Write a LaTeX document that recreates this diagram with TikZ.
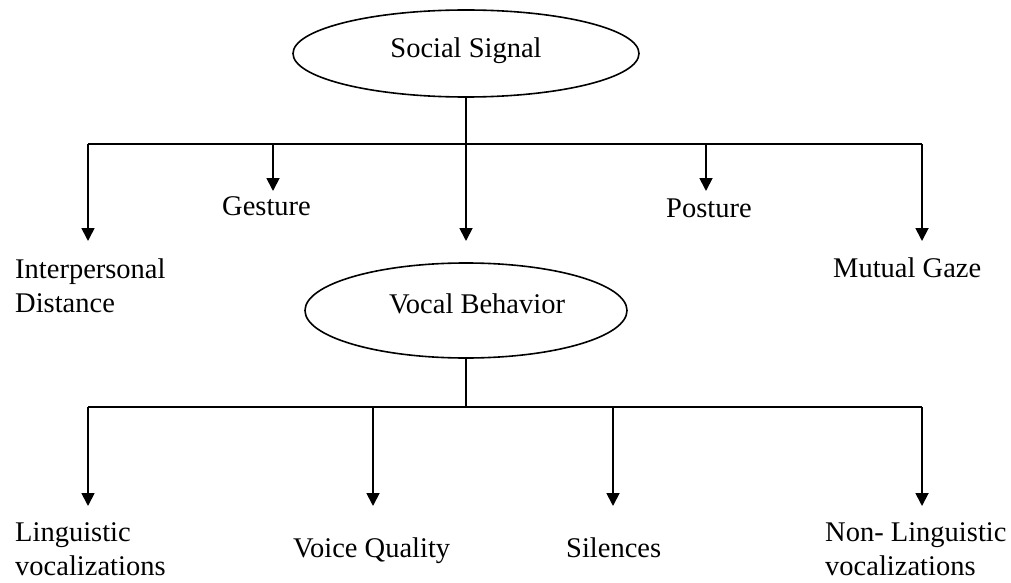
\documentclass[tikz,border=0pt]{standalone}
\usepackage{fontspec}
\setmainfont{Liberation Serif}
\usetikzlibrary{shapes.geometric,arrows.meta}
\begin{document}
\begin{tikzpicture}[x=1pt,y=-1pt,
  conn/.style={line width=1.8pt,black},
  arr/.style={conn,-{Triangle[width=13pt,length=13pt]}},
  oval/.style={draw,ellipse,line width=1.6pt,inner sep=0pt},
  lbl/.style={inner sep=0pt,anchor=base west,align=left,font=\fontsize{28.5}{34}\selectfont}
]
\useasboundingbox (0,0) rectangle (1011,583);
\fill[white] (0,0) rectangle (1011,583);

% top level
\node[oval,minimum width=346pt,minimum height=87pt] (ss) at (466,53.5) {};
\node[lbl,anchor=base] (sst) at (466,58) {Social Signal};

\coordinate (j1) at (466,144);
\coordinate (b1l) at (88,144);
\coordinate (b1r) at (922,144);
\coordinate (g1) at (273,144);
\coordinate (p1) at (706,144);

\coordinate (tIP) at (88,241);
\coordinate (tG) at (273,191);
\coordinate (tC) at (466,241);
\coordinate (tP) at (706,191);
\coordinate (tM) at (922,241);

\node[lbl] (ip) at (15,312) {Interpersonal\\Distance};
\node[lbl] (ge) at (222,215) {Gesture};
\node[lbl] (po) at (666,217) {Posture};
\node[lbl] (mg) at (833,277) {Mutual Gaze};

\draw[conn] (b1l) -- (b1r);
\draw[arr] (ss.south) -- (tC);
\draw[arr] (b1l) -- (tIP);
\draw[arr] (g1) -- (tG);
\draw[arr] (p1) -- (tP);
\draw[arr] (b1r) -- (tM);

% vocal behaviour
\node[oval,minimum width=322pt,minimum height=95pt] (vb) at (466,310.5) {};
\node[lbl,anchor=base] (vbt) at (477,313) {Vocal Behavior};

\coordinate (j2) at (466,407);
\coordinate (b2l) at (88,407);
\coordinate (b2r) at (922,407);
\coordinate (vq2) at (373,407);
\coordinate (si2) at (613,407);

\coordinate (tL) at (88,506);
\coordinate (tV) at (373,506);
\coordinate (tS) at (613,506);
\coordinate (tN) at (922,506);

\node[lbl] (li) at (15,575) {Linguistic\\vocalizations};
\node[lbl] (vq) at (293,557) {Voice Quality};
\node[lbl] (si) at (566,557) {Silences};
\node[lbl] (nl) at (825,575) {Non- Linguistic\\vocalizations};

\draw[conn] (vb.south) -- (j2);
\draw[conn] (b2l) -- (b2r);
\draw[arr] (b2l) -- (tL);
\draw[arr] (vq2) -- (tV);
\draw[arr] (si2) -- (tS);
\draw[arr] (b2r) -- (tN);
\end{tikzpicture}
\end{document}
